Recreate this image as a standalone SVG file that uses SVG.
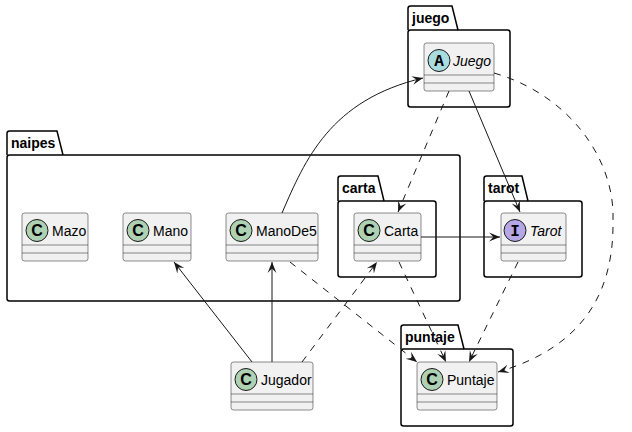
<svg xmlns="http://www.w3.org/2000/svg" width="632" height="432" viewBox="0 0 632 432">
<defs>
<style>
.pkg{fill:none;stroke:#000;stroke-width:1.5}
.pt{font-family:"Liberation Sans",Arial,sans-serif;font-size:14px;font-weight:bold;fill:#000}
.cls{fill:#F1F1F1;stroke:#181818;stroke-width:0.5}
.div{stroke:#181818;stroke-width:0.5}
.cn{font-family:"Liberation Sans",Arial,sans-serif;font-size:14px;fill:#000}
.it{font-style:italic}
.cc{fill:#ADD1B2;stroke:#181818;stroke-width:1}
.ca{fill:#A9DCDF;stroke:#181818;stroke-width:1}
.ci{fill:#B4A7E5;stroke:#181818;stroke-width:1}
.cl{font-family:"Liberation Sans",Arial,sans-serif;font-size:16px;font-weight:bold;fill:#000;text-anchor:middle}
.cm{font-family:"Liberation Mono","Courier New",monospace;font-size:16px;font-weight:bold;fill:#000;text-anchor:middle}
.ln{fill:none;stroke:#181818;stroke-width:1;marker-end:url(#ah)}
.dash{stroke-dasharray:7,7}
</style>
<marker id="ah" viewBox="0 0 10 10" refX="10" refY="5" markerWidth="11" markerHeight="11" markerUnits="userSpaceOnUse" orient="auto">
<path d="M0,1 L10,5 L0,9 L4,5 Z" fill="#181818"/>
</marker>
</defs>
<rect width="632" height="432" fill="#fff"/>

<g id="pkg-naipes">
<path class="pkg" d="M7,155 L7,133.5 Q7,131 9.5,131 L57,131 L63,155"/>
<rect class="pkg" x="7" y="155" width="453" height="146" rx="2.5"/>
<text class="pt" x="11" y="148">naipes</text>
</g>
<g id="pkg-juego">
<path class="pkg" d="M408,30 L408,8.5 Q408,6 410.5,6 L452,6 L458,30"/>
<rect class="pkg" x="408" y="30" width="102" height="77" rx="2.5"/>
<text class="pt" x="412" y="23">juego</text>
</g>
<g id="pkg-carta">
<path class="pkg" d="M338,201 L338,178.5 Q338,176 340.5,176 L378,176 L384,201"/>
<rect class="pkg" x="338" y="201" width="98" height="76" rx="2.5"/>
<text class="pt" x="342" y="193">carta</text>
</g>
<g id="pkg-tarot">
<path class="pkg" d="M484,201 L484,178.5 Q484,176 486.5,176 L522,176 L528,201"/>
<rect class="pkg" x="484" y="201" width="98" height="76" rx="2.5"/>
<text class="pt" x="488" y="193">tarot</text>
</g>
<g id="pkg-puntaje">
<path class="pkg" d="M401,349 L401,327.5 Q401,325 403.5,325 L458,325 L464,349"/>
<rect class="pkg" x="401" y="349" width="112" height="77" rx="2.5"/>
<text class="pt" x="405" y="342">puntaje</text>
</g>

<g id="Juego">
<rect class="cls" x="424" y="43" width="70" height="48" rx="2.5"/>
<line class="div" x1="424" y1="75" x2="494" y2="75"/>
<line class="div" x1="424" y1="83" x2="494" y2="83"/>
<circle class="ca" cx="439" cy="60.5" r="11"/>
<text class="cm" x="439" y="66">A</text>
<text class="cn it" x="453" y="65.5">Juego</text>
</g>
<g id="Mazo">
<rect class="cls" x="22" y="213" width="66" height="48" rx="2.5"/>
<line class="div" x1="22" y1="245" x2="88" y2="245"/>
<line class="div" x1="22" y1="253" x2="88" y2="253"/>
<circle class="cc" cx="37" cy="230.5" r="11"/>
<text class="cl" x="37" y="236.3">C</text>
<text class="cn" x="52" y="235.5">Mazo</text>
</g>
<g id="Mano">
<rect class="cls" x="123" y="213" width="68" height="48" rx="2.5"/>
<line class="div" x1="123" y1="245" x2="191" y2="245"/>
<line class="div" x1="123" y1="253" x2="191" y2="253"/>
<circle class="cc" cx="138" cy="230.5" r="11"/>
<text class="cl" x="138" y="236.3">C</text>
<text class="cn" x="153" y="235.5">Mano</text>
</g>
<g id="ManoDe5">
<rect class="cls" x="226" y="213" width="92" height="48" rx="2.5"/>
<line class="div" x1="226" y1="245" x2="318" y2="245"/>
<line class="div" x1="226" y1="253" x2="318" y2="253"/>
<circle class="cc" cx="241" cy="230.5" r="11"/>
<text class="cl" x="241" y="236.3">C</text>
<text class="cn" x="256" y="235.5">ManoDe5</text>
</g>
<g id="Carta">
<rect class="cls" x="354" y="213" width="67" height="48" rx="2.5"/>
<line class="div" x1="354" y1="245" x2="421" y2="245"/>
<line class="div" x1="354" y1="253" x2="421" y2="253"/>
<circle class="cc" cx="369" cy="230.5" r="11"/>
<text class="cl" x="369" y="236.3">C</text>
<text class="cn" x="384" y="235.5">Carta</text>
</g>
<g id="Tarot">
<rect class="cls" x="501" y="213" width="65" height="48" rx="2.5"/>
<line class="div" x1="501" y1="245" x2="566" y2="245"/>
<line class="div" x1="501" y1="253" x2="566" y2="253"/>
<circle class="ci" cx="515" cy="230.5" r="11"/>
<text class="cm" x="515" y="236">I</text>
<text class="cn it" x="530" y="235.5">Tarot</text>
</g>
<g id="Jugador">
<rect class="cls" x="231" y="362" width="82" height="48" rx="2.5"/>
<line class="div" x1="231" y1="394" x2="313" y2="394"/>
<line class="div" x1="231" y1="402" x2="313" y2="402"/>
<circle class="cc" cx="246" cy="379.5" r="11"/>
<text class="cl" x="246" y="385.3">C</text>
<text class="cn" x="261" y="384.5">Jugador</text>
</g>
<g id="Puntaje">
<rect class="cls" x="417" y="362" width="80" height="48" rx="2.5"/>
<line class="div" x1="417" y1="394" x2="497" y2="394"/>
<line class="div" x1="417" y1="402" x2="497" y2="402"/>
<circle class="cc" cx="432" cy="379.5" r="11"/>
<text class="cl" x="432" y="385.3">C</text>
<text class="cn" x="447" y="384.5">Puntaje</text>
</g>

<g id="connectors">
<path class="ln" d="M282,213 C305,160 330,100 423,78"/>
<path class="ln dash" d="M449,91 L398,212"/>
<path class="ln" d="M469,91 L520,212"/>
<path class="ln dash" d="M494,73 C570,95 615,160 613,220 C614,285 590,345 498,372"/>
<path class="ln" d="M421,237 L500,237"/>
<path class="ln" d="M252,362 L174,262"/>
<path class="ln" d="M272,362 L272,262"/>
<path class="ln dash" d="M302,362 L377,262"/>
<path class="ln dash" d="M290,262 L417,362"/>
<path class="ln dash" d="M399,262 L446,362"/>
<path class="ln dash" d="M518,262 L469,362"/>
</g>
</svg>
